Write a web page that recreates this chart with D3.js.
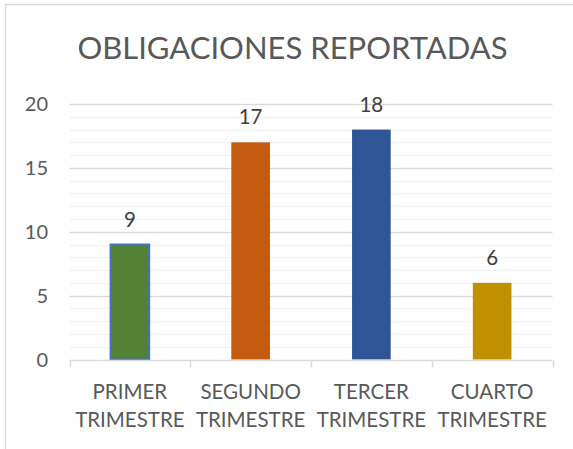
<!DOCTYPE html>
<html lang="es">
<head>
    <meta charset="UTF-8">
    <title>Obligaciones reportadas</title>
    <script src="https://d3js.org/d3.v7.min.js"></script>
    <style>
        body {
            margin: 0;
            background-color: #fff;
        }
        svg {
            display: block;
            font-family: Lato, "Open Sans", sans-serif;
        }
        .title {
            font-size: 31px;
            fill: #595959;
            text-anchor: middle;
        }
        .tick-label {
            font-size: 20px;
            fill: #595959;
        }
        .cat-label {
            font-size: 20.5px;
            fill: #595959;
            text-anchor: middle;
        }
        .value-label {
            font-size: 20.5px;
            fill: #404040;
            text-anchor: middle;
        }
    </style>
</head>
<body>
    <div id="chart"></div>

    <script>
        // datos
        const categories = ["PRIMER TRIMESTRE", "SEGUNDO TRIMESTRE", "TERCER TRIMESTRE", "CUARTO TRIMESTRE"];
        const values = [9, 17, 18, 6];
        const barColors = ["#548235", "#c55a11", "#2f5597", "#bf9000"];
        const yTicks = [0, 5, 10, 15, 20];
        const minorTicks = d3.range(0, 21, 1);

        const width = 573;
        const height = 449;
        const plot = { left: 69.5, right: 552.5, top: 104, bottom: 359.5 };

        const svg = d3.select("#chart")
            .append("svg")
            .attr("width", width)
            .attr("height", height);

        // borde del área del gráfico
        svg.append("rect")
            .attr("x", 5.5)
            .attr("y", 4.5)
            .attr("width", 620)
            .attr("height", 520)
            .attr("fill", "#fff")
            .attr("stroke", "#d9d9d9")
            .attr("stroke-width", 1.5);

        svg.append("text")
            .attr("class", "title")
            .attr("x", 292.5)
            .attr("y", 59)
            .text("OBLIGACIONES REPORTADAS");

        const x = d3.scaleBand()
            .domain(categories)
            .range([plot.left, plot.right])
            .padding(0);

        const y = d3.scaleLinear()
            .domain([0, 20])
            .range([plot.bottom, plot.top]);

        // líneas de división secundarias
        svg.append("g")
            .selectAll("line")
            .data(minorTicks.filter(d => d % 5 !== 0))
            .enter()
            .append("line")
            .attr("x1", plot.left)
            .attr("x2", plot.right)
            .attr("y1", d => Math.round(y(d)) + 0.5)
            .attr("y2", d => Math.round(y(d)) + 0.5)
            .attr("stroke", "#f2f2f2")
            .attr("stroke-width", 1.3);

        // líneas de división principales
        svg.append("g")
            .selectAll("line")
            .data(yTicks.filter(d => d > 0))
            .enter()
            .append("line")
            .attr("x1", plot.left)
            .attr("x2", plot.right)
            .attr("y1", d => Math.round(y(d)) + 0.5)
            .attr("y2", d => Math.round(y(d)) + 0.5)
            .attr("stroke", "#d9d9d9")
            .attr("stroke-width", 1.3);

        // etiquetas del eje Y
        svg.append("g")
            .selectAll("text")
            .data(yTicks)
            .enter()
            .append("text")
            .attr("class", "tick-label")
            .attr("x", 48)
            .attr("y", d => y(d))
            .attr("dy", "0.35em")
            .attr("text-anchor", "end")
            .text(d => d);

        // barras
        const barW = x.bandwidth() * 0.32;
        svg.append("g")
            .selectAll("rect")
            .data(values)
            .enter()
            .append("rect")
            .attr("x", (d, i) => x(categories[i]) + (x.bandwidth() - barW) / 2)
            .attr("y", d => y(d))
            .attr("width", barW)
            .attr("height", d => y(0) - y(d))
            .attr("fill", (d, i) => barColors[i])
            .attr("stroke", (d, i) => i === 0 ? "#4472c4" : "none")
            .attr("stroke-width", 2);

        // etiquetas de datos
        svg.append("g")
            .selectAll("text")
            .data(values)
            .enter()
            .append("text")
            .attr("class", "value-label")
            .attr("x", (d, i) => x(categories[i]) + x.bandwidth() / 2)
            .attr("y", d => y(d) - 18)
            .text(d => d);

        // eje X
        const axisY = Math.round(y(0)) + 0.5;
        svg.append("line")
            .attr("x1", plot.left)
            .attr("x2", plot.right)
            .attr("y1", axisY)
            .attr("y2", axisY)
            .attr("stroke", "#d9d9d9")
            .attr("stroke-width", 1.5);

        const bounds = categories.map(c => x(c)).concat([plot.right]);
        svg.append("g")
            .selectAll("line")
            .data(bounds)
            .enter()
            .append("line")
            .attr("x1", d => Math.round(d) + 0.5)
            .attr("x2", d => Math.round(d) + 0.5)
            .attr("y1", axisY)
            .attr("y2", axisY + 7)
            .attr("stroke", "#d9d9d9")
            .attr("stroke-width", 1.5);

        // etiquetas de categorías en dos líneas
        const catText = svg.append("g")
            .selectAll("text")
            .data(categories)
            .enter()
            .append("text")
            .attr("class", "cat-label")
            .attr("x", d => x(d) + x.bandwidth() / 2)
            .attr("y", 398.5);

        catText.selectAll("tspan")
            .data(d => d.split(" "))
            .enter()
            .append("tspan")
            .attr("x", function() { return this.parentNode.getAttribute("x"); })
            .attr("dy", (d, i) => i === 0 ? 0 : 28)
            .text(d => d);
    </script>
</body>
</html>
